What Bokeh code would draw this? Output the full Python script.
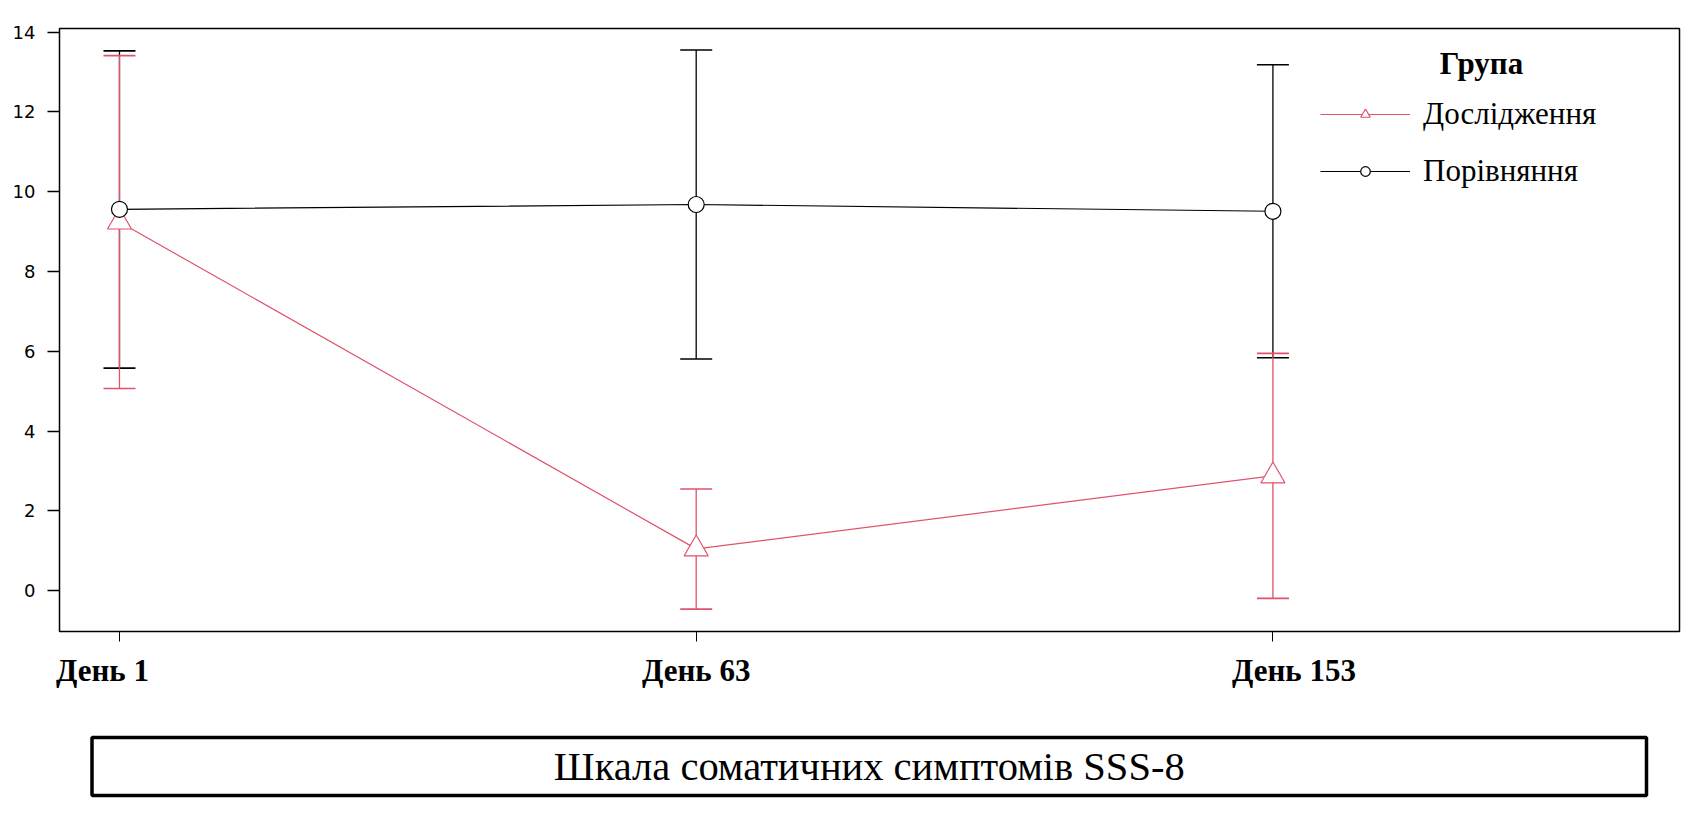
from bokeh.plotting import figure
from bokeh.models import (ColumnDataSource, Range1d, Label, Legend, LegendItem,
                          Whisker, TeeHead, FixedTicker, LinearAxis)
from bokeh.layouts import column
from bokeh.embed import file_html
from bokeh.resources import INLINE
from bokeh.core.properties import value

# ---- data ----
days = ["День 1", "День 63", "День 153"]
xpos = [1, 2, 3]
study_mean = [9.24, 1.05, 2.88]
study_low = [5.07, -0.46, -0.19]
study_high = [13.41, 2.55, 5.95]
comp_mean = [9.56, 9.68, 9.51]
comp_low = [5.58, 5.81, 5.84]
comp_high = [13.53, 13.55, 13.18]
y_ticks = [0, 2, 4, 6, 8, 10, 12, 14]
legend_title = "Група"
series_names = ["Дослідження", "Порівняння"]
caption = "Шкала соматичних симптомів SSS-8"

RED = "#DF536B"
BLACK = "#000000"
SERIF = "Liberation Serif"
SANS = "DejaVu Sans"

W = 1689
BL, BR = 59, 10
FRAME_W = W - BL - BR
X0, X1 = 0.896, 3.705

p = figure(width=W, height=705, output_backend="svg", toolbar_location=None,
           x_range=Range1d(X0, X1), y_range=Range1d(-1.02, 14.09),
           min_border_left=BL, min_border_right=BR, min_border_top=28,
           min_border_bottom=74, background_fill_color="white",
           border_fill_color="white")
p.grid.visible = False
p.outline_line_color = BLACK
p.outline_line_width = 1.5

# y axis
p.yaxis.ticker = FixedTicker(ticks=y_ticks)
p.yaxis.major_label_text_font = SANS
p.yaxis.major_label_text_font_size = "18px"
p.yaxis.major_label_text_color = BLACK
p.yaxis.major_tick_out = 12
p.yaxis.major_tick_in = 0
p.yaxis.major_tick_line_color = BLACK
p.yaxis.major_tick_line_width = 1.3
p.yaxis.minor_tick_line_color = None
p.yaxis.axis_line_color = None
p.yaxis.major_label_standoff = 12

# x axis: tick marks only
p.xaxis.ticker = FixedTicker(ticks=xpos)
p.xaxis.major_label_overrides = {x: "" for x in xpos}
p.xaxis.major_label_text_font_size = "0px"
p.xaxis.major_label_standoff = 0
p.xaxis.major_tick_out = 10
p.xaxis.major_tick_in = 0
p.xaxis.major_tick_line_color = BLACK
p.xaxis.minor_tick_line_color = None
p.xaxis.axis_line_color = None

# x axis: day labels (slightly shifted like the original)
px_per_unit = FRAME_W / (X1 - X0)
label_shift_px = [-17, 0, 21]
label_pos = [x + s / px_per_unit for x, s in zip(xpos, label_shift_px)]
lab_axis = LinearAxis(ticker=FixedTicker(ticks=label_pos),
                      major_label_overrides={lp: d for lp, d in zip(label_pos, days)},
                      major_label_text_font=SERIF, major_label_text_font_style="bold",
                      major_label_text_font_size="31px", major_label_text_color=BLACK,
                      major_label_standoff=11, major_tick_out=0, major_tick_in=0,
                      major_tick_line_color=None, minor_tick_line_color=None,
                      axis_line_color=None)
p.add_layout(lab_axis, "below")

src_s = ColumnDataSource(dict(x=xpos, m=study_mean, lo=study_low, hi=study_high))
src_c = ColumnDataSource(dict(x=xpos, m=comp_mean, lo=comp_low, hi=comp_high))

l_s = p.line("x", "m", source=src_s, line_color=RED, line_width=1.2)
l_c = p.line("x", "m", source=src_c, line_color=BLACK, line_width=1.2)
m_s = p.scatter("x", "m", source=src_s, marker="triangle", size=24,
                line_color=RED, fill_color="white", line_width=1.2)
m_c = p.scatter("x", "m", source=src_c, marker="circle", size=16,
                line_color=BLACK, fill_color="white", line_width=1.2)

for src, col in ((src_c, BLACK), (src_s, RED)):
    w = Whisker(base="x", lower="lo", upper="hi", source=src,
                line_color=col, line_width=1.3,
                upper_head=TeeHead(size=32, line_color=col, line_width=1.6),
                lower_head=TeeHead(size=32, line_color=col, line_width=1.6))
    p.add_layout(w)

legend = Legend(items=[LegendItem(label=series_names[0], renderers=[l_s, m_s]),
                       LegendItem(label=series_names[1], renderers=[l_c, m_c])],
                location=(1261, 442), orientation="vertical",
                label_text_font=SERIF, label_text_font_size="31px",
                label_text_color=BLACK, glyph_width=90, glyph_height=24,
                label_height=34, label_standoff=13, spacing=21, padding=0,
                margin=0, border_line_color=None, background_fill_alpha=0)
p.add_layout(legend)

p.add_layout(Label(x=1422, y=568, x_units="screen", y_units="screen",
                   text=legend_title, text_font=SERIF, text_font_style="bold",
                   text_font_size="31px", text_align="center",
                   text_baseline="middle", text_color=BLACK))

# caption box (second figure, pixel-unit ranges, same frame as the main plot)
H2 = 93
p2 = figure(width=W, height=H2, output_backend="svg", toolbar_location=None,
            x_range=Range1d(0, FRAME_W), y_range=Range1d(0, H2),
            min_border_left=BL, min_border_right=BR, min_border_top=0,
            min_border_bottom=0, background_fill_color="white",
            border_fill_color="white")
p2.axis.visible = False
p2.grid.visible = False
p2.outline_line_color = None
box_left, box_right, box_bottom, box_top = 32.5, 1587, 3, 61
p2.quad(left=[box_left], right=[box_right], bottom=[box_bottom], top=[box_top],
        fill_color=None, line_color=BLACK, line_width=3.5)
p2.text(x=[(box_left + box_right) / 2], y=[(box_bottom + box_top) / 2],
        text=[caption], text_font=value(SERIF),
        text_font_size="40.5px", text_align="center", text_baseline="middle",
        text_color=BLACK)

layout = column(p, p2, spacing=0)
open("out.html", "w").write(file_html(layout, INLINE))
